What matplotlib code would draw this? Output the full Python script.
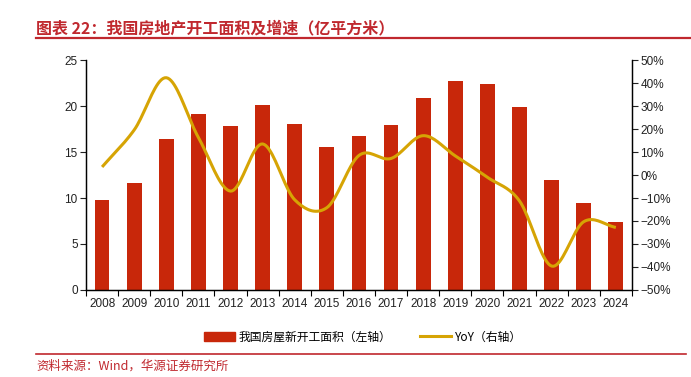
import numpy as np
import matplotlib
matplotlib.use("Agg")
import matplotlib.pyplot as plt
from matplotlib.lines import Line2D
from matplotlib.patches import Patch

plt.rcParams['font.family'] = ['Liberation Sans', 'Noto Sans CJK SC', 'DejaVu Sans']

years = ['2008', '2009', '2010', '2011', '2012', '2013', '2014', '2015', '2016',
         '2017', '2018', '2019', '2020', '2021', '2022', '2023', '2024']
# 新开工面积 (亿平方米)
area = [9.8, 11.6, 16.4, 19.1, 17.8, 20.1, 18.0, 15.5, 16.7,
        17.9, 20.9, 22.7, 22.4, 19.9, 12.0, 9.5, 7.4]
# 同比 (%)
yoy = [3.5, 19.6, 42.3, 16.3, -7.0, 13.5, -10.8, -14.2, 8.5,
       7.2, 17.1, 8.3, -1.0, -11.3, -39.6, -20.3, -22.8]

bar_color = '#C8270A'
line_color = '#D6A404'
red = '#C0282E'


def catmull_rom(x, y, n=20):
    """smooth curve through the points (like excel smoothed line)"""
    x = np.asarray(x, float)
    y = np.asarray(y, float)
    px = np.concatenate([[2 * x[0] - x[1]], x, [2 * x[-1] - x[-2]]])
    py = np.concatenate([[2 * y[0] - y[1]], y, [2 * y[-1] - y[-2]]])
    xs, ys = [], []
    t = np.linspace(0, 1, n, endpoint=False)
    for i in range(1, len(px) - 2):
        for p, out in ((px, xs), (py, ys)):
            p0, p1, p2, p3 = p[i - 1], p[i], p[i + 1], p[i + 2]
            out.extend(0.5 * ((2 * p1) + (-p0 + p2) * t
                              + (2 * p0 - 5 * p1 + 4 * p2 - p3) * t ** 2
                              + (-p0 + 3 * p1 - 3 * p2 + p3) * t ** 3))
    xs.append(x[-1])
    ys.append(y[-1])
    return np.array(xs), np.array(ys)


fig = plt.figure(figsize=(6.91, 3.77), dpi=100)
ax = fig.add_axes([0.1245, 0.2308, 0.790, 0.610])
ax2 = ax.twinx()

pos = np.arange(len(years))
ax.bar(pos, area, width=0.46, color=bar_color, zorder=2)
ax.set_xlim(-0.5, len(years) - 0.5)
ax.set_ylim(0, 25)
ax.set_yticks(range(0, 26, 5))

sx, sy = catmull_rom(pos, yoy)
ax2.plot(sx, sy, color=line_color, lw=2.2, solid_capstyle='butt', zorder=3)
ax2.set_ylim(-50, 50)
ticks = list(range(-50, 51, 10))
ax2.set_yticks(ticks)
ax2.set_yticklabels([f'{v}%'.replace('-', '\u2212') for v in ticks])

ax.set_xticks(pos)
ax.set_xticklabels(years)
ax.set_xticks(np.arange(-0.5, len(years), 1), minor=True)
ax.tick_params(axis='x', which='major', length=0, pad=6)
ax.tick_params(axis='x', which='minor', length=4, width=0.8, direction='out')

for a in (ax, ax2):
    a.spines['top'].set_visible(False)
    for s in ('left', 'right', 'bottom'):
        a.spines[s].set_linewidth(0.9)
    a.tick_params(axis='y', length=4, width=0.8, labelsize=8.5, colors='#222222', pad=2)
    a.tick_params(axis='x', labelsize=8.5, colors='#222222')

ax.set_zorder(ax2.get_zorder() - 1)
ax2.patch.set_visible(False)

handles = [Patch(color=bar_color), Line2D([], [], color=line_color, lw=2.2)]
labels = ['我国房屋新开工面积（左轴）', 'YoY（右轴）']
fig.legend(handles, labels, loc='center', bbox_to_anchor=(0.525, 0.106), ncol=2,
           frameon=False, handlelength=2.6, columnspacing=2.5,
           handletextpad=0.3,
           prop={'family': ['Noto Sans CJK SC'], 'size': 8.5})

fig.text(0.052, 0.925, '图表 22：我国房地产开工面积及增速（亿平方米）', color=red,
         fontsize=11.5, fontweight='bold', family=['Noto Sans CJK SC'], va='center')
fig.add_artist(Line2D([0.052, 1.0], [0.899, 0.899], color=red, lw=1.6))
fig.add_artist(Line2D([0.052, 0.993], [0.062, 0.062], color=red, lw=1.2))
fig.text(0.052, 0.030, '资料来源：Wind，华源证券研究所', color=red, fontsize=9,
         family=['Noto Sans CJK SC'], va='center')

fig.savefig('out.png', dpi=100)
